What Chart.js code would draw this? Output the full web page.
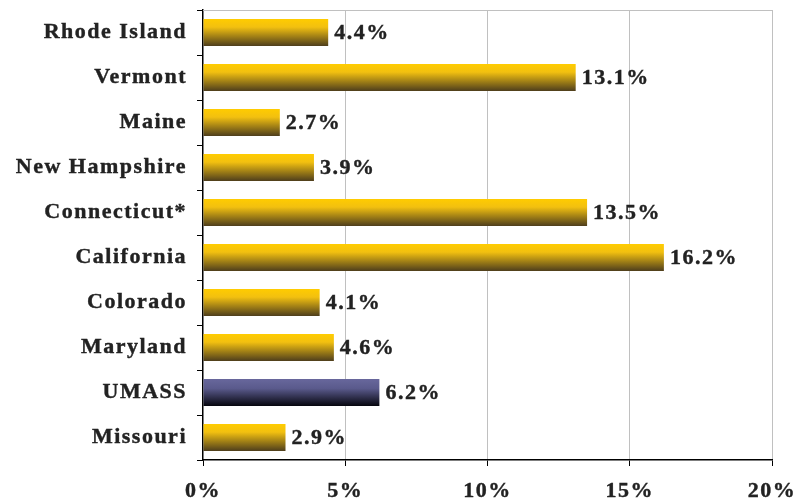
<!DOCTYPE html>
<html>
<head>
<meta charset="utf-8">
<script src="https://cdn.jsdelivr.net/npm/chart.js@4/dist/chart.umd.min.js"></script>
<style>
  html, body { margin: 0; padding: 0; background: #fff; }
  #wrap { width: 798px; height: 498px; }
</style>
</head>
<body>
<div id="wrap"><canvas id="rateChart"></canvas></div>
<script>
const states = ['Rhode Island', 'Vermont', 'Maine', 'New Hampshire', 'Connecticut*',
                'California', 'Colorado', 'Maryland', 'UMASS', 'Missouri'];
const rates = [4.4, 13.1, 2.7, 3.9, 13.5, 16.2, 4.1, 4.6, 6.2, 2.9];
const highlight = 'UMASS';
const xTicks = [0, 5, 10, 15, 20];

const FONT = { family: '"Liberation Serif"', size: 22, weight: 'bold' };

// vertical gradient per bar, gold for the states, blue for UMASS
function barFill(ctx) {
    const chart = ctx.chart;
    const yScale = chart.scales.y;
    if (!chart.chartArea || !yScale || ctx.dataIndex === undefined) return '#f5c400';
    const band = (yScale.bottom - yScale.top) / states.length;
    const yc = yScale.getPixelForValue(ctx.dataIndex);
    const h = band * 0.6;
    const g = chart.ctx.createLinearGradient(0, yc - h / 2, 0, yc + h / 2);
    if (states[ctx.dataIndex] === highlight) {
        g.addColorStop(0, '#68679c');
        g.addColorStop(0.35, '#5a5a8c');
        g.addColorStop(1, '#06060e');
    } else {
        g.addColorStop(0, '#ffcc00');
        g.addColorStop(0.3, '#f2c010');
        g.addColorStop(1, '#4e3e1c');
    }
    return g;
}

const spacingPlugin = {
    id: 'spacing',
    beforeDraw(chart) { chart.ctx.letterSpacing = '1.5px'; }
};

const framePlugin = {
    id: 'frame',
    beforeDatasetsDraw(chart) {
        const { ctx, chartArea: a } = chart;
        ctx.save();
        ctx.strokeStyle = '#c0c0c0';
        ctx.lineWidth = 1;
        ctx.beginPath();
        ctx.moveTo(a.left, a.top + 0.5);
        ctx.lineTo(a.right, a.top + 0.5);
        ctx.stroke();
        ctx.restore();
    }
};

const valueLabels = {
    id: 'valueLabels',
    afterDatasetsDraw(chart) {
        const { ctx } = chart;
        const meta = chart.getDatasetMeta(0);
        ctx.save();
        ctx.font = `${FONT.weight} ${FONT.size}px ${FONT.family}`;
        ctx.fillStyle = '#222';
        ctx.strokeStyle = '#222';
        ctx.lineWidth = 0.4;
        ctx.textAlign = 'left';
        ctx.textBaseline = 'middle';
        meta.data.forEach((bar, i) => {
            const t = rates[i].toFixed(1) + '%';
            ctx.fillText(t, bar.x + 6, bar.y + 1);
            ctx.strokeText(t, bar.x + 6, bar.y + 1);
        });
        ctx.restore();
    }
};

new Chart(document.getElementById('rateChart'), {
    type: 'bar',
    data: {
        labels: states,
        datasets: [{
            data: rates,
            backgroundColor: barFill,
            borderWidth: 0,
            barPercentage: 0.6,
            categoryPercentage: 1.0
        }]
    },
    options: {
        indexAxis: 'y',
        responsive: true,
        maintainAspectRatio: false,
        animation: false,
        layout: { padding: { top: 10, right: 26, left: 0, bottom: 0 } },
        plugins: {
            legend: { display: false },
            tooltip: { enabled: false }
        },
        scales: {
            x: {
                min: 0,
                max: 20,
                afterBuildTicks(scale) { scale.ticks = xTicks.map(v => ({ value: v })); },
                afterFit(scale) {
                    scale.height = 38;
                    scale.paddingLeft = 0;
                    scale.paddingRight = 0;
                },
                grid: {
                    color: ctx => ctx.tick && ctx.tick.value === 0 ? 'rgba(0,0,0,0)' : '#c0c0c0',
                    tickColor: '#000',
                    tickLength: 6,
                    lineWidth: 1
                },
                border: { color: '#000', width: 1.5 },
                ticks: {
                    color: '#222',
                    font: FONT,
                    padding: 12,
                    maxRotation: 0,
                    textStrokeColor: '#222',
                    textStrokeWidth: 0.4,
                    callback: v => v + '%'
                }
            },
            y: {
                afterFit(scale) {
                    scale.width = 203;
                    scale.paddingTop = 0;
                    scale.paddingBottom = 0;
                },
                grid: {
                    drawOnChartArea: false,
                    tickColor: '#000',
                    tickLength: 6,
                    offset: true
                },
                border: { color: '#000', width: 1.5 },
                ticks: {
                    color: '#222',
                    font: FONT,
                    padding: 10,
                    textStrokeColor: '#222',
                    textStrokeWidth: 0.4
                }
            }
        }
    },
    plugins: [spacingPlugin, framePlugin, valueLabels]
});
</script>
</body>
</html>
